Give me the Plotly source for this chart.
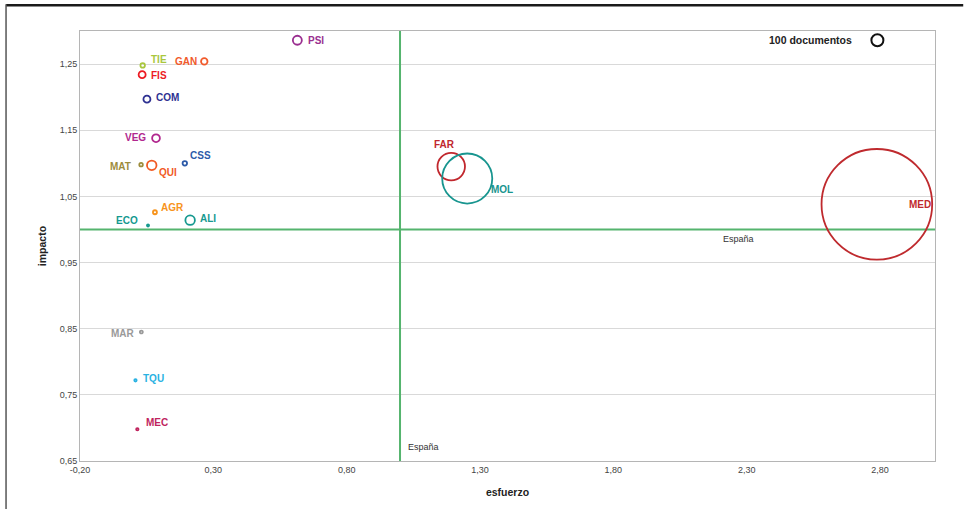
import plotly.graph_objects as go

# ---- data ----
areas = ["PSI", "TIE", "GAN", "FIS", "COM", "VEG", "MAT", "QUI", "CSS", "AGR",
         "ECO", "ALI", "FAR", "MOL", "MED", "MAR", "TQU", "MEC"]
esfuerzo = [0.615, 0.035, 0.266, 0.033, 0.051, 0.085, 0.029, 0.069, 0.193, 0.081,
            0.055, 0.213, 1.192, 1.252, 2.788, 0.030, 0.008, 0.015]
impacto = [1.286, 1.248, 1.254, 1.234, 1.197, 1.138, 1.098, 1.097, 1.100, 1.026,
           1.006, 1.014, 1.095, 1.077, 1.038, 0.845, 0.772, 0.698]
documentos = [56, 14, 29, 34, 34, 42, 8.5, 63, 14, 11,
              3, 63, 525, 1740, 8500, 6, 4, 4]
colores = ["#9a2f90", "#a9c73d", "#f15a2b", "#ec1c24", "#2e3192", "#b1278e", "#9d8c3c",
           "#f15a24", "#2c5aa8", "#f7941d", "#14998f", "#16998f", "#c1272d", "#18958f",
           "#bf2a2e", "#9a9a9a", "#2ab2e2", "#c0245e"]

ref_label = "100 documentos"
ref_docs = 100
ref_x = 2.79
ref_y = 1.286

espana_x = 1.0
espana_y = 1.0

x_ticks = [-0.20, 0.30, 0.80, 1.30, 1.80, 2.30, 2.80]
y_ticks = [0.65, 0.75, 0.85, 0.95, 1.05, 1.15, 1.25]

# ---- label placement (pixels relative to each bubble) ----
label_pos = {
    "PSI": (9, 0, "left"), "TIE": (6, 6, "left"), "GAN": (-5, 0, "right"),
    "FIS": (7, -1, "left"), "COM": (7, 1.5, "left"), "VEG": (-8, 1, "right"),
    "MAT": (-8, -2, "right"), "QUI": (5, -7, "left"), "CSS": (3, 8, "left"),
    "AGR": (4, 5, "left"), "ECO": (-8, 5, "right"), "ALI": (8, 2, "left"),
    "FAR": (-7, 22, "center"), "MOL": (22, -11, "left"), "MED": (30, 0, "left"),
    "MAR": (-4, -1, "right"), "TQU": (6, 2, "left"), "MEC": (7, 7, "left"),
}

FONT = "Liberation Sans, Arial, sans-serif"
REF_DIAM = 12  # px diameter of the 100-document bubble
sizeref = ref_docs / (2 * (REF_DIAM / 2) ** 2)

fig = go.Figure()

# España reference lines
fig.add_trace(go.Scatter(x=[espana_x, espana_x], y=[0.65, 1.30], mode="lines",
                         line=dict(color="#55b46e", width=2), hoverinfo="skip",
                         showlegend=False))
fig.add_trace(go.Scatter(x=[-0.20, 3.006], y=[espana_y, espana_y], mode="lines",
                         line=dict(color="#55b46e", width=2), hoverinfo="skip",
                         showlegend=False))

fig.add_trace(go.Scatter(
    x=esfuerzo, y=impacto, mode="markers", text=areas,
    marker=dict(symbol="circle-open", size=documentos, sizemode="area",
                sizeref=sizeref, color=colores, opacity=1,
                line=dict(color=colores, width=1.8)),
    showlegend=False, cliponaxis=False))

fig.add_trace(go.Scatter(
    x=[ref_x], y=[ref_y], mode="markers",
    marker=dict(symbol="circle-open", size=[ref_docs], sizemode="area",
                sizeref=sizeref, color="#111111", opacity=1,
                line=dict(color="#111111", width=2)),
    showlegend=False))

annotations = []
for name, xv, yv, c in zip(areas, esfuerzo, impacto, colores):
    dx, dy, anc = label_pos[name]
    annotations.append(dict(x=xv, y=yv, text=f"<b>{name}</b>", showarrow=False,
                            xshift=dx, yshift=dy, xanchor=anc, yanchor="middle",
                            font=dict(family=FONT, size=10, color=c)))
annotations.append(dict(x=ref_x, y=ref_y, text=f"<b>{ref_label}</b>", showarrow=False,
                        xshift=-23, xanchor="right", yanchor="middle",
                        font=dict(family=FONT, size=10.5, color="#222222")))
annotations.append(dict(x=espana_x, y=0.65, text="España", showarrow=False,
                        xshift=6, yshift=14, xanchor="left", yanchor="middle",
                        font=dict(family=FONT, size=9, color="#333333")))
annotations.append(dict(x=2.27, y=espana_y, text="España", showarrow=False,
                        yshift=-10, xanchor="center", yanchor="middle",
                        font=dict(family=FONT, size=9, color="#333333")))

def fmt(v):
    return f"{v:.2f}".replace(".", ",")

# outer frame lines of the page
shapes = [
    dict(type="line", xref="paper", yref="paper", x0=-0.0865, x1=1.033, y0=1.06, y1=1.06,
         line=dict(color="#1a1a1a", width=2.5)),
    dict(type="line", xref="paper", yref="paper", x0=-0.0865, x1=-0.0865, y0=1.062, y1=-0.12,
         line=dict(color="#555555", width=1.5)),
]

fig.update_layout(
    width=964, height=509,
    margin=dict(l=80, r=29, t=31, b=48),
    paper_bgcolor="white", plot_bgcolor="white",
    font=dict(family=FONT, size=9, color="#444444"),
    annotations=annotations, shapes=shapes,
    xaxis=dict(range=[-0.20, 3.006], tickvals=x_ticks, ticktext=[fmt(v) for v in x_ticks],
               showgrid=False, zeroline=False, showline=True, mirror=True,
               linecolor="#b5b5b5", linewidth=1, ticks="", ticklen=0,
               tickfont=dict(family=FONT, size=9, color="#444444"),
               title=dict(text="<b>esfuerzo</b>", standoff=14,
                          font=dict(family=FONT, size=10.5, color="#222222"))),
    yaxis=dict(range=[0.65, 1.30], tickvals=y_ticks, ticktext=[fmt(v) for v in y_ticks],
               showgrid=True, gridcolor="#d9d9d9", gridwidth=1, zeroline=False,
               showline=True, mirror=True, linecolor="#b5b5b5", linewidth=1,
               ticks="", ticklen=0,
               tickfont=dict(family=FONT, size=9, color="#444444"),
               title=dict(text="<b>impacto</b>", standoff=10,
                          font=dict(family=FONT, size=10.5, color="#222222"))),
)

fig.write_html("out.html", config={"displayModeBar": False},
               post_script="document.body.style.margin='0';")
